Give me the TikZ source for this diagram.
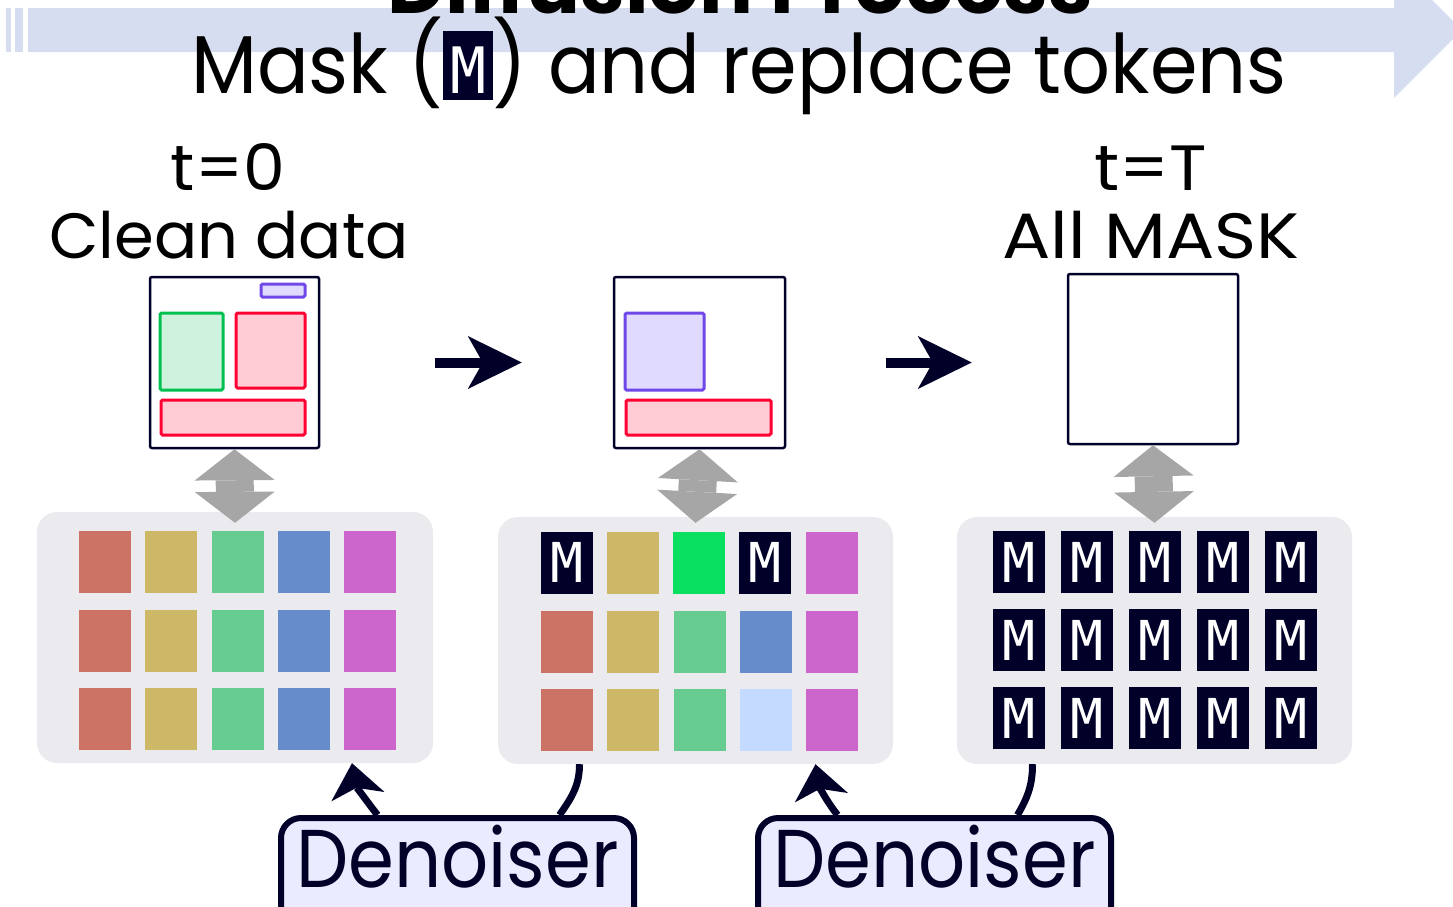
\documentclass[tikz,border=0pt]{standalone}
\usepackage{graphicx}
\usepackage{fontspec}
\setmainfont{Poppins}
\setmonofont{DejaVu Sans Mono}
\usetikzlibrary{arrows.meta}

\definecolor{navy}{HTML}{000028}
\definecolor{bannerblue}{HTML}{D6DDF0}
\definecolor{panelgray}{HTML}{EAEAEF}
\definecolor{arrowgray}{HTML}{A6A6A6}
\definecolor{tokred}{HTML}{CC7366}
\definecolor{tokgold}{HTML}{CCB866}
\definecolor{tokgreen}{HTML}{66CC90}
\definecolor{tokblue}{HTML}{668CCC}
\definecolor{tokpink}{HTML}{CC66CC}
\definecolor{tokbright}{HTML}{0AE060}
\definecolor{toklight}{HTML}{C4DAFF}
\definecolor{redline}{HTML}{FF0033}
\definecolor{redfill}{HTML}{FFCCD5}
\definecolor{greenline}{HTML}{00C050}
\definecolor{greenfill}{HTML}{CFF2DE}
\definecolor{purpleline}{HTML}{7048E8}
\definecolor{purplefill}{HTML}{E0DAFF}
\definecolor{denoiserfill}{HTML}{EBEBFF}

\newcommand{\mtok}{\colorbox{navy}{\makebox[47pt]{\rule[-4pt]{0pt}{63pt}\textcolor{white}{\fontsize{64}{64}\selectfont\ttfamily M}}}}

\begin{document}
\begin{tikzpicture}[x=1pt, y=-1pt,
    frame/.style ={draw=navy, line width=2.5pt, rounded corners=2pt, fill=white, inner sep=0pt},
    panel/.style ={fill=panelgray, rounded corners=20pt, inner sep=0pt},
    token/.style ={minimum width=52pt, minimum height=62pt, inner sep=0pt},
    masked/.style ={token, fill=navy, text=white, font=\fontsize{55}{55}\selectfont\ttfamily},
    redbox/.style ={draw=redline, fill=redfill, line width=3pt, rounded corners=1.5pt},
    greenbox/.style ={draw=greenline, fill=greenfill, line width=3pt, rounded corners=1.5pt},
    purplebox/.style ={draw=purpleline, fill=purplefill, line width=3pt, rounded corners=1.5pt},
    label/.style ={anchor=base, font=\fontsize{64}{70}\selectfont},
    denoiser/.style ={draw=navy, fill=denoiserfill, line width=6pt, rounded corners=20pt, anchor=north,
        minimum width=353pt, inner sep=0pt, text height=69pt, text depth=40pt, font=\fontsize{82}{90}\selectfont, text=navy},
    nextarrow/.style ={draw=navy, line width=10pt, -{Stealth[length=54pt, width=53pt, inset=15pt, line width=0pt]}},
    updown/.style ={draw=arrowgray, line width=38pt, {Triangle[length=31pt, width=80pt, line width=0pt]}-{Triangle[length=31pt, width=80pt, line width=0pt]}},
    curvearrow/.style ={draw=navy, line width=7pt},
    tip/.style ={-{Stealth[length=34pt, width=54pt, inset=9pt, line width=0pt]}}]
   \useasboundingbox (0,0) rectangle (1453,906);
   \clip (0,0) rectangle (1453,906);

   % banner arrow
   \fill[bannerblue] (6,8) rectangle (10.5,52);
   \fill[bannerblue] (15,8) rectangle (23,52);
   \fill[bannerblue] (28,8) -- (1394,8) -- (1394,-38) -- (1462,30) -- (1394,98) -- (1394,52) -- (28,52) -- cycle;
   \node[anchor=base, font=\fontsize{80}{90}\selectfont\bfseries] (title) at (740,13) {Diffusion Process};
   \node[anchor=base, font=\fontsize{82}{90}\selectfont] (subtitle) at (739,93) {\scalebox{0.934}[1]{Mask (\mtok) and replace tokens}};

   \node[label] (t0) at (228,190) {\scalebox{1.04}[1]{t=0}};
   \node[label] (clean) at (229,258) {Clean data};
   \node[label] (tT) at (1151,190) {\scalebox{1.08}[1]{t=T}};
   \node[label] (allmask) at (1151,258) {\scalebox{1.12}[1]{All MASK}};

   % layouts
   \node[frame, minimum width=169pt, minimum height=171pt] (frame1) at (234.5,362.5) {};
   \node[frame, minimum width=171pt, minimum height=171pt] (frame2) at (699.5,362.5) {};
   \node[frame, minimum width=170pt, minimum height=170pt] (frame3) at (1153,359) {};
   \draw[purplebox] (261,284) rectangle (305,297);
   \draw[greenbox] (160,313) rectangle (223,390);
   \draw[redbox] (236,313) rectangle (305,388);
   \draw[redbox] (161,400) rectangle (305,435);
   \draw[purplebox] (625,313) rectangle (704,390);
   \draw[redbox] (626,400) rectangle (771,435);

   \draw[nextarrow] ([xshift=115pt]frame1.east) -- ([xshift=-91pt]frame2.west);
   \draw[nextarrow] ([xshift=100pt]frame2.east) -- ([xshift=-95pt,yshift=-3.5pt]frame3.west);

   % token panels
   \node[panel, minimum width=396pt, minimum height=251pt] (panel1) at (235,637.5) {};
   \node[panel, minimum width=395pt, minimum height=247pt] (panel2) at (695.5,640.5) {};
   \node[panel, minimum width=395pt, minimum height=247pt] (panel3) at (1154.5,640.5) {};

   \foreach \c [count=\i from 0] in {tokred,tokgold,tokgreen,tokblue,tokpink}
     \foreach \r [count=\j] in {562,641,719}
       \node[token, fill=\c] (a\i\j) at (105+66.25*\i,\r) {};

   \node[masked] (b01) at (567,562.5) {M};
   \node[token, fill=tokgold] (b11) at (633,562.5) {};
   \node[token, fill=tokbright] (b21) at (699,562.5) {};
   \node[masked] (b31) at (765,562.5) {M};
   \node[token, fill=tokpink] (b41) at (832,562.5) {};
   \foreach \c [count=\i from 0] in {tokred,tokgold,tokgreen,tokblue,tokpink}
     \node[token, fill=\c] (b\i2) at (567+66.25*\i,641.5) {};
   \foreach \c [count=\i from 0] in {tokred,tokgold,tokgreen,toklight,tokpink}
     \node[token, fill=\c] (b\i3) at (567+66.25*\i,719.5) {};

   \foreach \i in {0,...,4}
     \foreach \r [count=\j] in {562,640,718}
       \node[masked] (c\i\j) at (1019+68*\i,\r) {M};

   \draw[updown] (frame1.south) -- ([yshift=-11pt]panel1.north);
   \draw[updown] (frame2.south) -- ([yshift=-6pt]panel2.north);
   \draw[updown] (frame3.south) -- ([yshift=-6pt]panel3.north);

   % denoisers
   \node[denoiser] (denoiser1) at (457.5,815) {\scalebox{0.9}[1]{Denoiser}};
   \node[denoiser] (denoiser2) at (934.5,815) {\scalebox{0.9}[1]{Denoiser}};

   \draw[curvearrow, tip] ([xshift=-80pt]denoiser1.north) to [out=128, in=-80] ([xshift=117pt]panel1.south);
   \draw[curvearrow] ([xshift=-116pt]panel2.south) to [out=-90, in=55] ([xshift=102pt]denoiser1.north);
   \draw[curvearrow, tip] ([xshift=-97pt]denoiser2.north) to [out=128, in=-80] ([xshift=120pt]panel2.south);
   \draw[curvearrow] ([xshift=-122pt]panel3.south) to [out=-90, in=60] ([xshift=83pt]denoiser2.north);

 \end{tikzpicture}
\end{document}
